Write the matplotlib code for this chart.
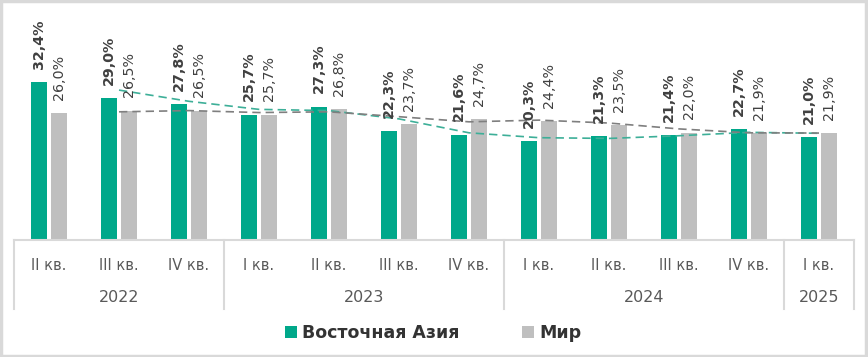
import matplotlib
matplotlib.use("Agg")
import matplotlib.pyplot as plt
import numpy as np
import pandas as pd
from matplotlib.patches import Patch, Rectangle
from matplotlib.lines import Line2D

quarters = ["II кв.", "III кв.", "IV кв.", "I кв.", "II кв.", "III кв.", "IV кв.",
            "I кв.", "II кв.", "III кв.", "IV кв.", "I кв."]
years = ["2022", "2023", "2024", "2025"]
year_counts = [3, 4, 4, 1]
east_asia = [32.4, 29.0, 27.8, 25.7, 27.3, 22.3, 21.6, 20.3, 21.3, 21.4, 22.7, 21.0]
world = [26.0, 26.5, 26.5, 25.7, 26.8, 23.7, 24.7, 24.4, 23.5, 22.0, 21.9, 21.9]
series_names = ["Восточная Азия", "Мир"]

TEAL = "#00A88A"
GRAY = "#BFBFBF"
TXT = "#404040"

plt.rcParams['font.family'] = ['DejaVu Sans']

fig = plt.figure(figsize=(8.68, 3.57), dpi=100)
W, H = 868, 357
ax = fig.add_axes([14 / W, 1 - 240 / H, 840 / W, 230 / H])

x = np.arange(len(quarters))
off = 0.14
bw = 0.225
ax.bar(x - off, east_asia, bw, color=TEAL, zorder=2)
ax.bar(x + off, world, bw, color=GRAY, zorder=2)

# moving average trendlines (period 2)
ma_ea = pd.Series(east_asia).rolling(2).mean()
ma_w = pd.Series(world).rolling(2).mean()
ax.plot(x, ma_ea, color="#3DAF98", ls=(0, (5, 3)), lw=1.2, zorder=3)
ax.plot(x, ma_w, color="#7F7F7F", ls=(0, (5, 3)), lw=1.2, zorder=3)

for xi, v in zip(x, east_asia):
    ax.annotate(f"{v:.1f}%".replace(".", ","), (xi - off, v), xytext=(0, 9.5),
                textcoords="offset points", rotation=90, ha="center", va="bottom",
                fontsize=10.3, fontweight="bold", color=TXT, zorder=4)
for xi, v in zip(x, world):
    ax.annotate(f"{v:.1f}%".replace(".", ","), (xi + off, v), xytext=(0, 9.5),
                textcoords="offset points", rotation=90, ha="center", va="bottom",
                fontsize=10.3, color=TXT, zorder=4)

ax.set_xlim(-0.5, len(quarters) - 0.5)
ax.set_ylim(0, 47.1)
for s in ["top", "right", "left"]:
    ax.spines[s].set_visible(False)
ax.spines["bottom"].set_color("#D9D9D9")
ax.spines["bottom"].set_linewidth(1.5)
ax.set_yticks([])
ax.set_xticks([])

tr = ax.get_xaxis_transform()
for xi, q in zip(x, quarters):
    ax.text(xi, -0.109, q, transform=tr, ha="center", va="center",
            fontsize=10.5, color="#595959")

start = 0
bounds = [-0.5]
for yname, cnt in zip(years, year_counts):
    center = start + (cnt - 1) / 2
    ax.text(center, -0.252, yname, transform=tr, ha="center", va="center",
            fontsize=11.5, color="#595959")
    start += cnt
    bounds.append(start - 0.5)
for b in bounds:
    ax.add_line(Line2D([b, b], [0, -0.30], transform=tr, color="#D9D9D9",
                       lw=1.5, clip_on=False))

handles = [Patch(facecolor=TEAL, edgecolor="none"), Patch(facecolor=GRAY, edgecolor="none")]
leg = fig.legend(handles, series_names, loc="center", bbox_to_anchor=(433 / W, 1 - 333 / H),
                 ncol=2, frameon=False, handlelength=0.7, handleheight=0.7,
                 handletextpad=0.3, columnspacing=3.6,
                 prop={"weight": "bold", "size": 12.5})
for t in leg.get_texts():
    t.set_color("#333333")

fig.add_artist(Rectangle((0.001, 0.002), 0.997, 0.995, transform=fig.transFigure,
                         fill=False, edgecolor="#D9D9D9", lw=2.5))

fig.savefig("out.png", dpi=100)
